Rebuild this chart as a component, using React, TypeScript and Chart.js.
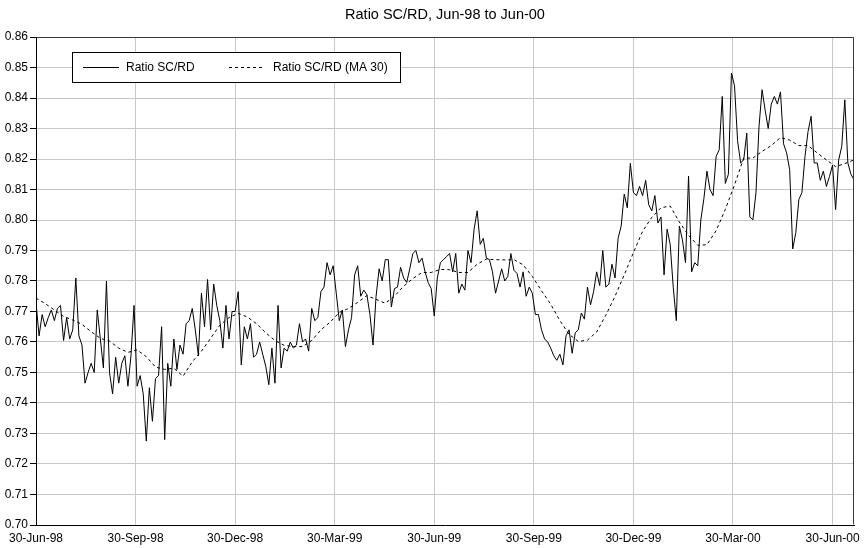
import React, { useEffect, useRef } from "react";
import { Chart, registerables } from "chart.js";

Chart.register(...registerables);

const FONT = "'Liberation Sans', Arial, Helvetica, sans-serif";

const TITLE = "Ratio SC/RD, Jun-98 to Jun-00";
const RATIO_LABEL = "Ratio SC/RD";
const MA_LABEL = "Ratio SC/RD (MA 30)";

// Quarter-end labels and their trading-day offsets from 30-Jun-98
const TICK_LABELS = [
  "30-Jun-98", "30-Sep-98", "30-Dec-98", "30-Mar-99", "30-Jun-99",
  "30-Sep-99", "30-Dec-99", "30-Mar-00", "30-Jun-00",
];
const TICK_DAYS = [0, 65, 130, 195, 260, 325, 390, 455, 520];
const LAST_DAY = 534;

const Y_MIN = 0.7;
const Y_MAX = 0.86;
const Y_STEP = 0.01;

// Daily ratio, one reading every RATIO_STEP trading days, grouped by quarter
const RATIO_STEP = 2;
const RATIO_Q3_98 = [
  0.773, 0.762, 0.769, 0.765, 0.768, 0.7705, 0.767, 0.771, 0.772, 0.7605,
  0.768, 0.761, 0.764, 0.781, 0.762, 0.759, 0.7465, 0.75, 0.753, 0.75,
  0.7705, 0.761, 0.7515, 0.78, 0.75, 0.743, 0.755, 0.7465, 0.753, 0.7555,
  0.7455, 0.7555, 0.772,
];
const RATIO_Q4_98 = [
  0.7455, 0.749, 0.743, 0.7275, 0.745, 0.734, 0.748, 0.749, 0.765, 0.728,
  0.753, 0.7455, 0.761, 0.751, 0.759, 0.756, 0.766, 0.767, 0.771, 0.764,
  0.7555, 0.776, 0.765, 0.7805, 0.764, 0.779, 0.772, 0.767, 0.758, 0.772,
  0.761, 0.77,
];
const RATIO_Q1_99 = [
  0.77, 0.7765, 0.7525, 0.765, 0.761, 0.766, 0.755, 0.756, 0.76, 0.756,
  0.752, 0.746, 0.758, 0.7465, 0.772, 0.7515, 0.758, 0.757, 0.76, 0.758,
  0.759, 0.766, 0.76, 0.761, 0.757, 0.771, 0.767, 0.768, 0.7765, 0.778,
  0.786, 0.782, 0.785,
];
const RATIO_Q2_99 = [
  0.776, 0.767, 0.7705, 0.7585, 0.764, 0.768, 0.782, 0.785, 0.775, 0.777,
  0.7755, 0.769, 0.759, 0.775, 0.784, 0.78, 0.787, 0.787, 0.7715, 0.7775,
  0.778, 0.7845, 0.781, 0.7795, 0.784, 0.789, 0.79, 0.786, 0.7875, 0.783,
  0.7795, 0.7775, 0.7685,
];
const RATIO_Q3_99 = [
  0.781, 0.786, 0.787, 0.788, 0.789, 0.783, 0.789, 0.776, 0.779, 0.777,
  0.79, 0.786, 0.797, 0.803, 0.792, 0.794, 0.7875, 0.787, 0.783, 0.776,
  0.78, 0.784, 0.78, 0.7815, 0.789, 0.7835, 0.7825, 0.778, 0.783, 0.775,
  0.778, 0.776,
];
const RATIO_Q4_99 = [
  0.769, 0.769, 0.764, 0.761, 0.76, 0.758, 0.7555, 0.754, 0.756, 0.7525,
  0.762, 0.764, 0.7563, 0.763, 0.764, 0.7695, 0.7675, 0.778, 0.7722, 0.7765,
  0.783, 0.7785, 0.79, 0.778, 0.779, 0.7855, 0.781, 0.794, 0.798, 0.8085,
  0.804, 0.8186, 0.809,
];
const RATIO_Q1_00 = [
  0.808, 0.811, 0.808, 0.813, 0.805, 0.803, 0.808, 0.799, 0.801, 0.782,
  0.797, 0.792, 0.778, 0.767, 0.798, 0.7935, 0.786, 0.8144, 0.783, 0.786,
  0.785, 0.8, 0.807, 0.816, 0.81, 0.808, 0.8209, 0.823, 0.8405, 0.812,
  0.815, 0.8482,
];
const RATIO_Q2_00 = [
  0.844, 0.826, 0.8187, 0.8197, 0.8285, 0.801, 0.8, 0.8089, 0.8307, 0.8427,
  0.836, 0.83, 0.838, 0.8405, 0.838, 0.842, 0.825, 0.822, 0.8165, 0.7905,
  0.7958, 0.8067, 0.809, 0.8208, 0.829, 0.834, 0.8187, 0.8187, 0.813, 0.816,
  0.811, 0.8143, 0.818, 0.8034, 0.8197, 0.8241, 0.8394, 0.8187, 0.815, 0.8132,
];
const RATIO = [
  ...RATIO_Q3_98, ...RATIO_Q4_98, ...RATIO_Q1_99, ...RATIO_Q2_99,
  ...RATIO_Q3_99, ...RATIO_Q4_99, ...RATIO_Q1_00, ...RATIO_Q2_00,
];

// 30-day moving average, one reading every MA_STEP trading days
const MA_STEP = 6;
const MA30 = [
  0.7744, 0.7726, 0.7705, 0.7684, 0.7672, 0.7658, 0.7634, 0.7612, 0.7603, 0.758,
  0.7566, 0.7574, 0.7552, 0.7518, 0.751, 0.7514, 0.7488, 0.7535, 0.757, 0.7612,
  0.7655, 0.768, 0.7694, 0.7682, 0.766, 0.763, 0.7605, 0.7589, 0.7585, 0.7585,
  0.7605, 0.764, 0.7665, 0.7697, 0.771, 0.773, 0.7752, 0.774, 0.7727, 0.775,
  0.7783, 0.7808, 0.7828, 0.7828, 0.7838, 0.7837, 0.7828, 0.7828, 0.7855, 0.7872,
  0.787, 0.7869, 0.787, 0.7853, 0.7815, 0.7768, 0.7724, 0.767, 0.7625, 0.7602,
  0.7606, 0.7633, 0.7688, 0.775, 0.782, 0.7893, 0.7963, 0.8009, 0.804, 0.8046,
  0.7993, 0.795, 0.7917, 0.7919, 0.7965, 0.8035, 0.8115, 0.8203, 0.8203, 0.8225,
  0.8244, 0.827, 0.8262, 0.8244, 0.8244, 0.822, 0.8197, 0.8175, 0.8185, 0.8197,
];

const toPoints = (values: number[], step: number) =>
  values.map((y, i) => ({ x: i * step, y }));

// Title centred over the plot area
const plotTitlePlugin = {
  id: "plotTitle",
  afterDraw(chart: any) {
    const { ctx, chartArea } = chart;
    ctx.save();
    ctx.font = `14.5px ${FONT}`;
    ctx.fillStyle = "#000000";
    ctx.textAlign = "center";
    ctx.textBaseline = "middle";
    ctx.fillText(TITLE, (chartArea.left + chartArea.right) / 2, chartArea.top - 22);
    ctx.restore();
  },
};

// Top and right edges of the plot frame
const framePlugin = {
  id: "plotFrame",
  afterDatasetsDraw(chart: any) {
    const { ctx, chartArea } = chart;
    const l = Math.round(chartArea.left) + 0.5;
    const r = Math.round(chartArea.right) - 0.5;
    const t = Math.round(chartArea.top) + 0.5;
    const b = Math.round(chartArea.bottom) - 0.5;
    ctx.save();
    ctx.strokeStyle = "#3a3a3a";
    ctx.lineWidth = 1;
    ctx.beginPath();
    ctx.moveTo(l, t);
    ctx.lineTo(r, t);
    ctx.lineTo(r, b);
    ctx.stroke();
    ctx.restore();
  },
};

// Boxed legend in the upper left of the plot area
const boxLegendPlugin = {
  id: "boxLegend",
  afterDraw(chart: any) {
    const { ctx, chartArea } = chart;
    const x0 = Math.round(chartArea.left) + 36;
    const y0 = Math.round(chartArea.top) + 15;
    const w = 328;
    const h = 30;
    const cy = y0 + h / 2;
    ctx.save();
    ctx.fillStyle = "#ffffff";
    ctx.fillRect(x0, y0, w, h);
    ctx.strokeStyle = "#000000";
    ctx.lineWidth = 1;
    ctx.strokeRect(x0 + 0.5, y0 + 0.5, w, h);
    ctx.font = `12px ${FONT}`;
    ctx.textBaseline = "middle";
    ctx.fillStyle = "#000000";
    const entries = [
      { lineStart: 11, lineEnd: 47, textX: 54, ds: chart.data.datasets[0] },
      { lineStart: 157, lineEnd: 193, textX: 201, ds: chart.data.datasets[1] },
    ];
    entries.forEach((e) => {
      ctx.beginPath();
      ctx.setLineDash(e.ds.borderDash || []);
      ctx.moveTo(x0 + e.lineStart, Math.round(cy) + 0.5);
      ctx.lineTo(x0 + e.lineEnd, Math.round(cy) + 0.5);
      ctx.stroke();
      ctx.setLineDash([]);
      ctx.fillText(e.ds.label, x0 + e.textX, cy + 1);
    });
    ctx.restore();
  },
};

export default function App() {
  const canvasRef = useRef<HTMLCanvasElement | null>(null);

  useEffect(() => {
    document.body.style.margin = "0";
    const canvas = canvasRef.current;
    if (!canvas) return;
    Chart.defaults.font.family = FONT;
    const chart = new Chart(canvas, {
      type: "line",
      data: {
        datasets: [
          {
            label: RATIO_LABEL,
            data: toPoints(RATIO, RATIO_STEP),
            borderColor: "#000000",
            borderWidth: 1,
            pointRadius: 0,
            tension: 0,
          },
          {
            label: MA_LABEL,
            data: toPoints(MA30, MA_STEP),
            borderColor: "#000000",
            borderWidth: 1,
            borderDash: [3, 3],
            pointRadius: 0,
            tension: 0,
          },
        ],
      },
      options: {
        animation: false,
        responsive: false,
        devicePixelRatio: 1,
        layout: { padding: { left: 0, right: 12, top: 37, bottom: 0 } },
        plugins: {
          legend: { display: false },
          tooltip: { enabled: false },
          title: { display: false },
        },
        scales: {
          x: {
            type: "linear",
            min: 0,
            max: LAST_DAY,
            afterBuildTicks: (axis: any) => {
              axis.ticks = TICK_DAYS.map((value) => ({ value }));
            },
            afterFit: (scale: any) => {
              scale.height = 23;
            },
            ticks: {
              autoSkip: false,
              maxRotation: 0,
              minRotation: 0,
              padding: 6,
              color: "#000000",
              font: { family: FONT, size: 12 },
              callback: (value: any) => {
                const i = TICK_DAYS.indexOf(Number(value));
                return i >= 0 ? TICK_LABELS[i] : "";
              },
            },
            grid: { color: "#c8c8c8", lineWidth: 1, drawTicks: false },
            border: { display: true, color: "#000000", width: 1 },
          },
          y: {
            type: "linear",
            min: Y_MIN,
            max: Y_MAX,
            afterFit: (scale: any) => {
              scale.width = 36;
            },
            ticks: {
              stepSize: Y_STEP,
              padding: 2,
              color: "#000000",
              font: { family: FONT, size: 12 },
              callback: (value: any) => Number(value).toFixed(2),
            },
            grid: {
              color: "#c8c8c8",
              lineWidth: 1,
              drawTicks: true,
              tickLength: 6,
              tickColor: "#000000",
            },
            border: { display: true, color: "#000000", width: 1 },
          },
        },
      },
      plugins: [plotTitlePlugin, framePlugin, boxLegendPlugin],
    });
    return () => chart.destroy();
  }, []);

  return (
    <div style={{ width: 866, height: 548, background: "#ffffff" }}>
      <canvas ref={canvasRef} width={866} height={548} />
    </div>
  );
}
